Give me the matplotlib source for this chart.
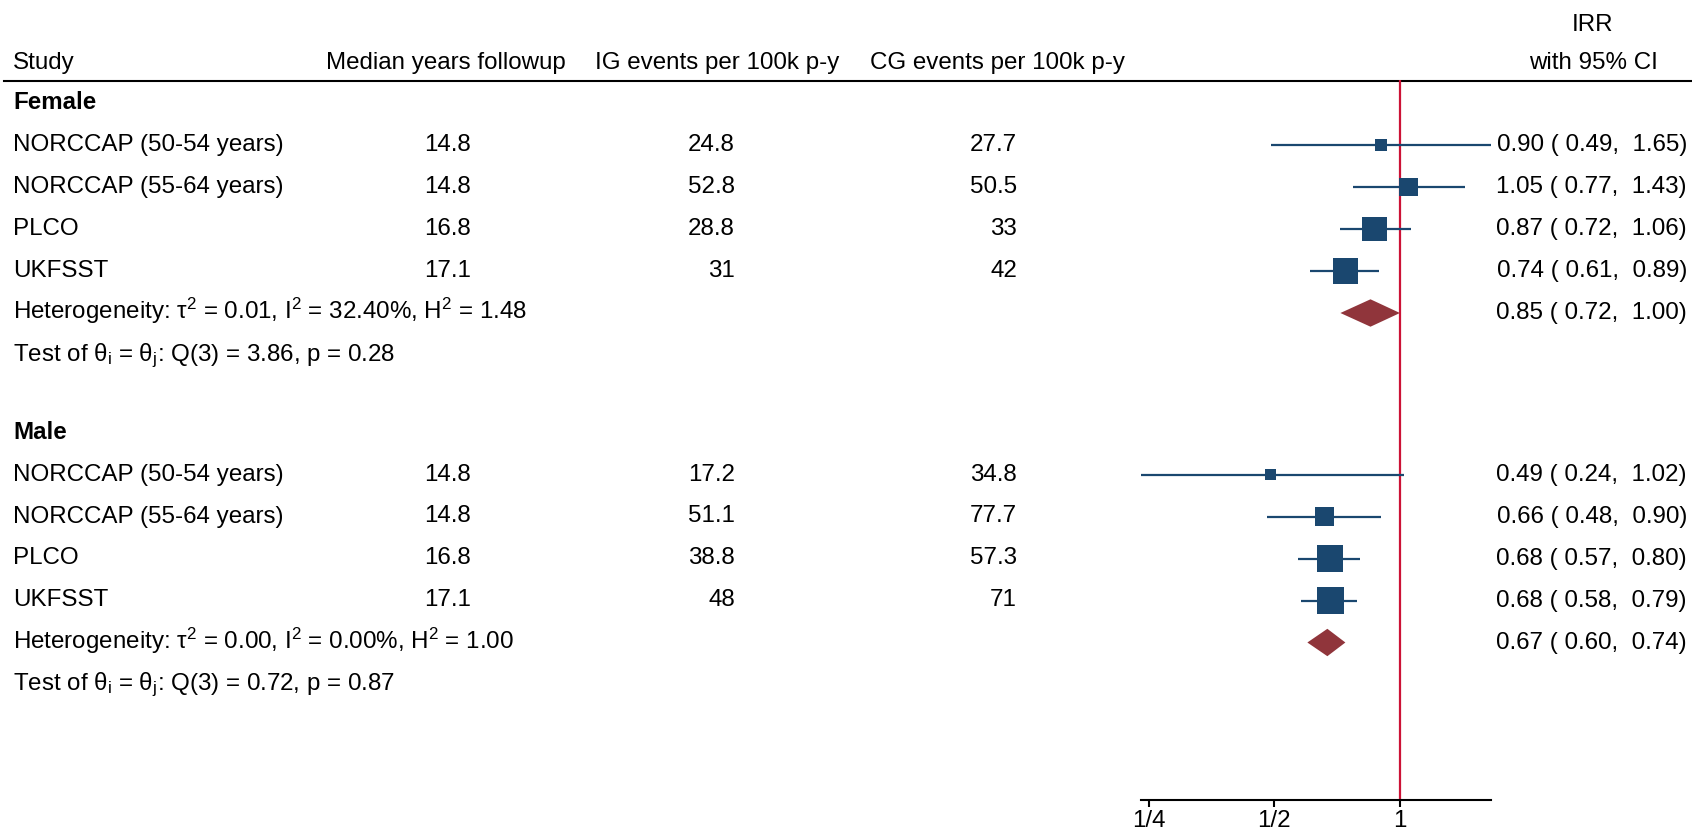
import matplotlib
matplotlib.use('Agg')
import matplotlib.pyplot as plt
import numpy as np
from matplotlib.ticker import FixedLocator, FixedFormatter, NullLocator

plt.rcParams['font.family'] = ['Liberation Sans', 'DejaVu Sans']
plt.rcParams['mathtext.fontset'] = 'custom'
plt.rcParams['mathtext.rm'] = 'Liberation Sans'
plt.rcParams['mathtext.it'] = 'Liberation Sans:italic'
plt.rcParams['mathtext.bf'] = 'Liberation Sans:bold'
plt.rcParams['mathtext.default'] = 'regular'

# dados
groups = ['Female', 'Male']
studies = ['NORCCAP (50-54 years)', 'NORCCAP (55-64 years)', 'PLCO', 'UKFSST']

followup_f = [14.8, 14.8, 16.8, 17.1]
ig_f = [24.8, 52.8, 28.8, 31]
cg_f = [27.7, 50.5, 33, 42]
irr_f = [0.90, 1.05, 0.87, 0.74]
lo_f = [0.49, 0.77, 0.72, 0.61]
hi_f = [1.65, 1.43, 1.06, 0.89]
weight_f = [8.3, 20.2, 35.2, 36.9]
pooled_f = [0.85, 0.72, 1.00]
het_f = [0.01, 32.40, 1.48, 3.86, 0.28]   # tau2, I2, H2, Q, p

followup_m = [14.8, 14.8, 16.8, 17.1]
ig_m = [17.2, 51.1, 38.8, 48]
cg_m = [34.8, 77.7, 57.3, 71]
irr_m = [0.49, 0.66, 0.68, 0.68]
lo_m = [0.24, 0.48, 0.57, 0.58]
hi_m = [1.02, 0.90, 0.80, 0.79]
weight_m = [7.0, 20.8, 39.9, 42.0]
pooled_m = [0.67, 0.60, 0.74]
het_m = [0.00, 0.00, 1.00, 0.72, 0.87]

tick_vals = [0.25, 0.5, 1]
tick_labels = ['1/4', '1/2', '1']

data = [
    (followup_f, ig_f, cg_f, irr_f, lo_f, hi_f, weight_f, pooled_f, het_f),
    (followup_m, ig_m, cg_m, irr_m, lo_m, hi_m, weight_m, pooled_m, het_m),
]

navy = '#1a476f'
maroon = '#90353b'
refred = '#cc1236'
fs = 17.4

W, H = 1692, 834
fig = plt.figure(figsize=(W / 100, H / 100), dpi=100)

# eixo de texto em pixels
tx = fig.add_axes([0, 0, 1, 1])
tx.set_xlim(0, W)
tx.set_ylim(H, 0)
tx.axis('off')

# eixo do forest plot
x0, x1, y0, y1 = 1141.3, 1490.7, 80, 800
ax = fig.add_axes([x0 / W, (H - y1) / H, (x1 - x0) / W, (y1 - y0) / H])
ax.set_xscale('log', base=2)
ax.set_xlim(min(lo_m + lo_f), max(hi_f + hi_m))
ax.set_ylim(y1, y0)
for s in ['top', 'right', 'left']:
    ax.spines[s].set_visible(False)
ax.spines['bottom'].set_linewidth(1.5)
ax.set_yticks([])
ax.xaxis.set_major_locator(FixedLocator(tick_vals))
ax.xaxis.set_major_formatter(FixedFormatter(tick_labels))
ax.xaxis.set_minor_locator(NullLocator())
ax.tick_params(axis='x', length=5, width=1.5, pad=2.5, labelsize=fs)
ax.patch.set_alpha(0)

ax.axvline(1, color=refred, lw=1.6, zorder=1)

# cabeçalho
hy = 69
tx.text(13, hy, 'Study', fontsize=fs, va='baseline')
tx.text(446, hy, 'Median years followup', fontsize=fs, va='baseline', ha='center')
tx.text(717, hy, 'IG events per 100k p-y', fontsize=fs, va='baseline', ha='center')
tx.text(997, hy, 'CG events per 100k p-y', fontsize=fs, va='baseline', ha='center')
tx.text(1593, hy - 38, 'IRR', fontsize=fs, va='baseline', ha='center')
tx.text(1593, hy, 'with 95% CI', fontsize=fs, va='baseline', ha='center')
tx.plot([4, W], [80.5, 80.5], color='black', lw=1.5)

group_top = [103, 432.5]
step = 42
off = 6

for g, top, (fu, ig, cg, est, lo, hi, w, pooled, het) in zip(groups, group_top, data):
    tx.text(13, top + off, g, fontsize=fs, fontweight='bold', va='baseline')
    rows = top + step * (np.arange(len(studies)) + 1)
    for i, y in enumerate(rows):
        tx.text(13, y + off, studies[i], fontsize=fs, va='baseline')
        tx.text(471, y + off, f'{fu[i]:g}', fontsize=fs, va='baseline', ha='right')
        tx.text(735, y + off, f'{ig[i]:g}', fontsize=fs, va='baseline', ha='right')
        tx.text(1017, y + off, f'{cg[i]:g}', fontsize=fs, va='baseline', ha='right')
        tx.text(1687, y + off, f'{est[i]:.2f} ({lo[i]:5.2f},  {hi[i]:.2f})',
                fontsize=fs, va='baseline', ha='right')
    ax.hlines(rows, lo, hi, color=navy, lw=1.6, zorder=2, clip_on=False)
    side = 4.165 * np.sqrt(w) * 0.72
    ax.scatter(est, rows, marker='s', s=side ** 2, color=navy, linewidths=0, zorder=3,
               clip_on=False)

    # diamante
    yd = rows[-1] + step
    e, l, h = pooled
    ax.fill([l, e, h, e], [yd, yd - 13.7, yd, yd + 13.7], color=maroon, lw=0, zorder=3)
    tx.text(1687, yd + off, f'{e:.2f} ({l:5.2f},  {h:.2f})', fontsize=fs,
            va='baseline', ha='right')
    tx.text(13, yd + off,
            r'Heterogeneity: $\tau^2$ = ' + f'{het[0]:.2f}, ' + r'$I^2$ = '
            + f'{het[1]:.2f}%, ' + r'$H^2$ = ' + f'{het[2]:.2f}',
            fontsize=fs, va='baseline')
    tx.text(13, yd + step + off,
            r'Test of $\theta_i$ = $\theta_j$: ' + f'Q(3) = {het[3]:.2f}, p = {het[4]:.2f}',
            fontsize=fs, va='baseline')

fig.savefig('out.png', dpi=100)
